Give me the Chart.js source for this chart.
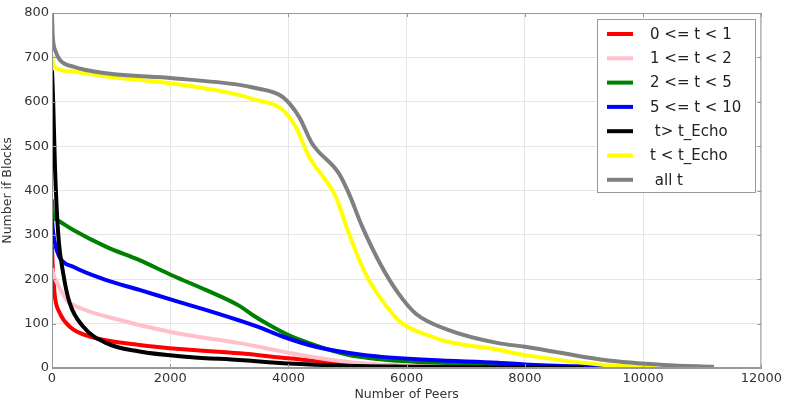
<!DOCTYPE html>
<html>
<head>
<meta charset="utf-8">
<script src="https://cdn.jsdelivr.net/npm/chart.js@4.4.1/dist/chart.umd.min.js"></script>
<style>
  html, body { margin: 0; padding: 0; background: #fff; }
  #wrap { width: 785px; height: 402px; }
</style>
</head>
<body>
<div id="wrap"><canvas id="canva" width="785" height="402"></canvas></div>
<script>
// series labels and colours (matplotlib order)
const labels = ['0 <= t < 1', '1 <= t < 2', '2 <= t < 5', '5 <= t < 10', ' t> t_Echo', 't < t_Echo', ' all t'];
const colors = ['#ff0000', '#ffc0cb', '#008000', '#0000ff', '#000000', '#ffff00', '#808080'];

// values: x = number of peers, y = number of blocks
const redX = [0, 10, 25, 50, 135, 300, 640, 1480, 2320, 3170, 4000, 5000, 6000, 7000];
const redY = [275, 235, 200, 160, 123, 93, 71, 52, 41, 33, 22, 10, 4, 1];

const pinkX = [0, 20, 50, 250, 500, 920, 2045, 3170, 3600, 4100, 4740, 5500, 6500];
const pinkY = [225, 212, 202, 153, 134, 116, 80, 56, 45, 32, 18, 8, 2];

const greenX = [0, 20, 80, 360, 920, 1480, 2045, 2600, 3170, 3400, 3700, 4000, 4460, 5000, 6000, 7500, 8500, 9300];
const greenY = [380, 345, 334, 311, 273, 243, 208, 176, 140, 119, 95, 74, 51, 30, 15, 8, 3, 1];

const blueX = [0, 15, 50, 135, 360, 920, 1480, 2045, 2600, 3170, 3500, 3900, 4460, 5300, 6420, 7550, 8000, 9400];
const blueY = [335, 310, 281, 248, 228, 198, 176, 153, 131, 107, 92, 71, 48, 29, 18, 12, 8, 2];

const blackX = [0, 20, 50, 105, 190, 300, 530, 920, 1480, 2320, 3170, 4000, 5000, 6000, 7000, 8000, 9000];
const blackY = [671, 600, 454, 303, 213, 146, 93, 56, 37, 25, 18, 10, 5, 3, 2, 1, 0];

const yellowX = [0, 20, 80, 360, 920, 2045, 3170, 3400, 3900, 4120, 4350, 4800, 5020, 5300, 5580, 5920, 6420, 6700, 7550, 8000, 9350, 10200];
const yellowY = [705, 685, 675, 668, 657, 641, 615, 606, 582, 544, 476, 386, 304, 213, 153, 101, 71, 59, 41, 29, 7, 2];

const grayX = [0, 10, 25, 50, 135, 360, 920, 2045, 3170, 3400, 3900, 4180, 4400, 4850, 5020, 5250, 5580, 5860, 6150, 6700, 7550, 8000, 9350, 10350, 11200];
const grayY = [800, 754, 730, 717, 694, 679, 664, 653, 638, 632, 611, 566, 506, 439, 394, 318, 228, 168, 123, 86, 56, 48, 18, 7, 3];

const xTicks = [0, 2000, 4000, 6000, 8000, 10000, 12000];
const yTicks = [0, 100, 200, 300, 400, 500, 600, 700, 800];

const seriesX = [redX, pinkX, greenX, blueX, blackX, yellowX, grayX];
const seriesY = [redY, pinkY, greenY, blueY, blackY, yellowY, grayY];

function toPoints(xs, ys) {
    return xs.map((x, i) => ({ x: x, y: ys[i] }));
}

const datasets = labels.map((label, i) => ({
    label: label,
    data: toPoints(seriesX[i], seriesY[i]),
    borderColor: colors[i],
    backgroundColor: colors[i],
    borderWidth: 4,
    pointRadius: 0,
    fill: false,
    cubicInterpolationMode: 'monotone',
    order: labels.length - i   // later series on top, like matplotlib
}));

// legend box drawn inside the plot, top right
const boxLegend = {
    id: 'boxLegend',
    afterDraw(chart) {
        const ctx = chart.ctx;
        const left = 597, top = 19, w = 158, h = 173;
        ctx.save();
        ctx.fillStyle = '#ffffff';
        ctx.fillRect(left, top, w, h);
        ctx.strokeStyle = '#9a9a9a';
        ctx.lineWidth = 1;
        ctx.strokeRect(left + 0.5, top + 0.5, w, h);
        ctx.font = '15px "DejaVu Sans"';
        ctx.textBaseline = 'middle';
        ctx.textAlign = 'left';
        labels.forEach((label, i) => {
            const y = top + 15 + i * 24.3;
            ctx.strokeStyle = colors[i];
            ctx.lineWidth = 4;
            ctx.beginPath();
            ctx.moveTo(607, y);
            ctx.lineTo(633, y);
            ctx.stroke();
            ctx.fillStyle = '#222';
            ctx.fillText(label, 650, y + 1);
        });
        ctx.restore();
    }
};

// frame round the plot plus small inward ticks on all four sides
const frame = {
    id: 'frame',
    afterDatasetsDraw(chart) {
        const a = chart.chartArea, ctx = chart.ctx;
        const xs = chart.scales.x, ys = chart.scales.y;
        ctx.save();
        ctx.strokeStyle = '#999';
        ctx.lineWidth = 1;
        ctx.strokeRect(a.left + 0.5, a.top + 0.5, a.right - a.left - 1, a.bottom - a.top - 1);
        ctx.beginPath();
        xTicks.forEach(v => {
            const px = Math.round(xs.getPixelForValue(v)) + 0.5;
            ctx.moveTo(px, a.bottom); ctx.lineTo(px, a.bottom - 4);
            ctx.moveTo(px, a.top); ctx.lineTo(px, a.top + 4);
        });
        yTicks.forEach(v => {
            const py = Math.round(ys.getPixelForValue(v)) + 0.5;
            ctx.moveTo(a.left, py); ctx.lineTo(a.left + 4, py);
            ctx.moveTo(a.right, py); ctx.lineTo(a.right - 4, py);
        });
        ctx.stroke();
        ctx.restore();
    }
};

const tickFont = { family: 'DejaVu Sans', size: 13 };
const titleFont = { family: 'DejaVu Sans', size: 12.5 };

new Chart(document.getElementById('canva').getContext('2d'), {
    type: 'line',
    data: { datasets: datasets },
    options: {
        responsive: false,
        animation: false,
        layout: { padding: { left: 0, right: 22, top: 13, bottom: 0 } },
        plugins: { legend: { display: false }, tooltip: { enabled: false } },
        scales: {
            x: {
                type: 'linear',
                min: 0,
                max: 12000,
                afterBuildTicks: (scale) => { scale.ticks = xTicks.map(v => ({ value: v })); },
                afterFit: (scale) => { scale.height = 34; },
                ticks: { font: tickFont, color: '#333', padding: 3, maxRotation: 0, callback: v => String(v) },
                grid: { color: '#e6e6e6', drawTicks: false },
                border: { color: '#999', width: 1 },
                title: { display: true, text: 'Number of Peers', font: titleFont, color: '#333', padding: { top: 1, bottom: 0 } }
            },
            y: {
                min: 0,
                max: 800,
                afterBuildTicks: (scale) => { scale.ticks = yTicks.map(v => ({ value: v })); },
                afterFit: (scale) => { scale.width = 52; },
                ticks: { font: tickFont, color: '#333', padding: 3, callback: v => String(v) },
                grid: { color: '#e6e6e6', drawTicks: false },
                border: { color: '#999', width: 1 },
                title: { display: true, text: 'Number if Blocks', font: titleFont, color: '#333', padding: { top: 0, bottom: 2 } }
            }
        }
    },
    plugins: [frame, boxLegend]
});
</script>
</body>
</html>
